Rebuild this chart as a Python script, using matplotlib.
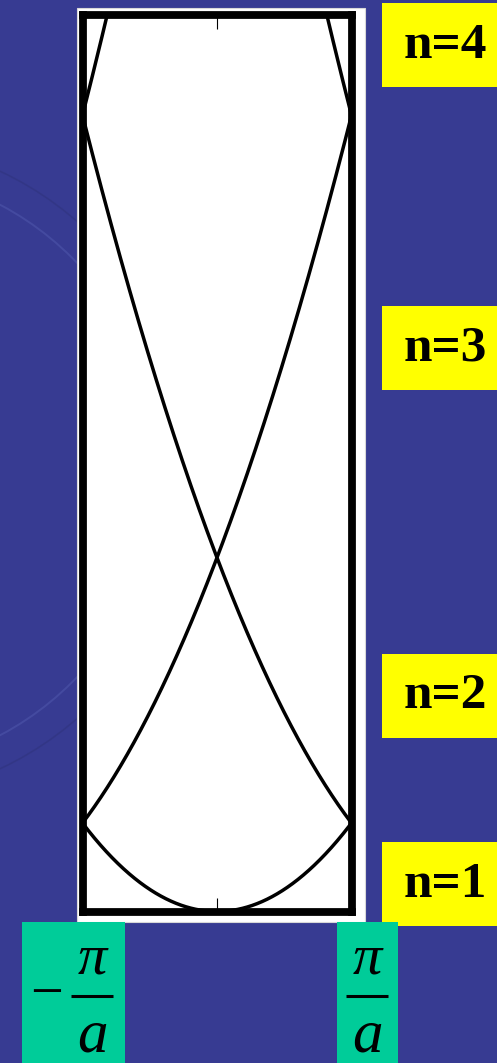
import numpy as np
import matplotlib
matplotlib.use("Agg")
import matplotlib.pyplot as plt
from matplotlib.patches import Rectangle, Circle

# free-electron bands folded into the first Brillouin zone, k in units of pi/a
G_shifts = [0, -2, 2, -4, 4]          # reciprocal lattice vectors (pi/a)
k = np.linspace(-1, 1, 801)
E_top = 10.14                          # energy range shown, (hbar pi/a)^2/2m units

band_labels = ["n=1", "n=2", "n=3", "n=4"]
label_rows = [884, 695.5, 347.5, 45]   # label box centres, pixels from top
zone_labels = ["\u2212", "\u03c0", "a"]

W, H = 497, 1063
bg = "#373b92"
fig = plt.figure(figsize=(W / 100, H / 100), dpi=100)
fig.patch.set_facecolor(bg)

# pixel-space overlay for panels, boxes and the faint seal
ov = fig.add_axes([0, 0, 1, 1], zorder=0)
ov.set_xlim(0, W)
ov.set_ylim(H, 0)
ov.axis("off")

ov.add_patch(Circle((-140, 470), 300, fill=False, ec="#4a51a6", lw=1.4, alpha=0.7))
ov.add_patch(Circle((-140, 470), 330, fill=False, ec="#30347f", lw=1.2, alpha=0.6))

# white panel behind the plot
ov.add_patch(Rectangle((77, 8), 288, 914, fc="white", ec="#d8d8d8", lw=0.8))

# yellow band labels
for lab, yc in zip(band_labels, label_rows):
    ov.add_patch(Rectangle((382, yc - 42), 120, 84, fc="#ffff00", ec="none"))
    ov.text(445, yc + 1, lab, ha="center", va="center", fontsize=37,
            family="Liberation Serif", weight="bold", color="black")

# green zone-boundary labels
green = "#00cc99"
ov.add_patch(Rectangle((22, 922), 103, 150, fc=green, ec="none"))
ov.add_patch(Rectangle((337, 922), 61, 150, fc=green, ec="none"))
for xc, neg in [(92, True), (367, False)]:
    if neg:
        ov.text(47, 996, zone_labels[0], ha="center", va="center", fontsize=42,
                family="Liberation Serif", color="black")
    ov.text(xc, 960, zone_labels[1], ha="center", va="center", fontsize=42,
            family="Liberation Serif", style="italic", color="black")
    ov.plot([xc - 21, xc + 21], [996, 996], color="black", lw=2.2,
            solid_capstyle="butt")
    ov.text(xc, 1037, zone_labels[2], ha="center", va="center", fontsize=44,
            family="Liberation Serif", style="italic", color="black")

# band diagram
ax = fig.add_axes([82.5 / W, 1 - 911.5 / H, 269 / W, 897 / H], zorder=2)
ax.set_facecolor("white")
for g in G_shifts:
    ax.plot(k, (k + g) ** 2, color="black", lw=2.5)
ax.set_xlim(-1, 1)
ax.set_ylim(0, E_top)
ax.set_xticks([0])
ax.set_yticks([])
ax.set_xticklabels([])
ax.tick_params(axis="x", direction="in", length=10, width=0.8, top=True,
               bottom=True, labelbottom=False)
for s in ax.spines.values():
    s.set_linewidth(5.6)
    s.set_color("black")

fig.savefig("out.png", dpi=100, facecolor=bg)
